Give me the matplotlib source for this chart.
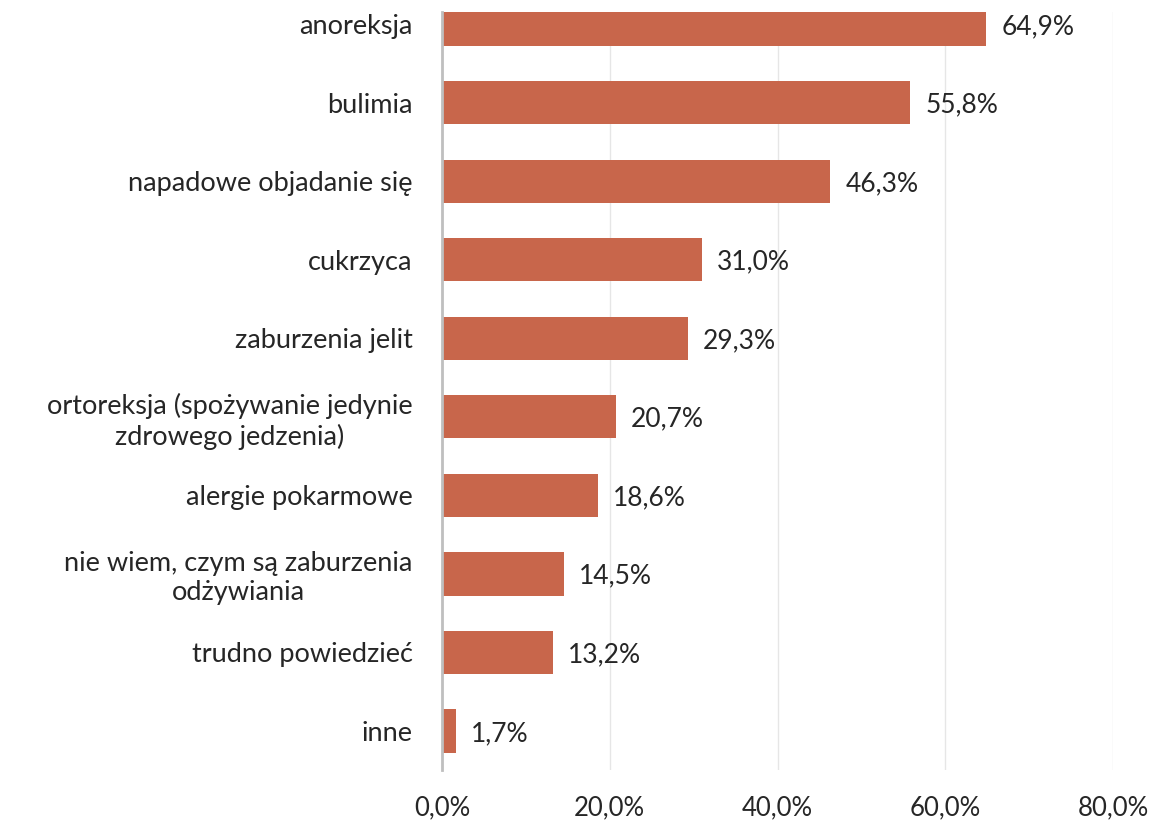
#!/usr/bin/env python3
"""Horizontal bar chart of eating disorder awareness answers."""

import matplotlib
matplotlib.use('Agg')
from matplotlib import pyplot as plt
from matplotlib.ticker import FuncFormatter

categories = [
    'anoreksja',
    'bulimia',
    'napadowe objadanie się',
    'cukrzyca',
    'zaburzenia jelit',
    'ortoreksja (spożywanie jedynie\nzdrowego jedzenia)',
    'alergie pokarmowe',
    'nie wiem, czym są zaburzenia\nodżywiania',
    'trudno powiedzieć',
    'inne',
]
values = [64.9, 55.8, 46.3, 31.0, 29.3, 20.7, 18.6, 14.5, 13.2, 1.7]
x_ticks = [0, 20, 40, 60, 80]


def pct(v):
    return '{:.1f}%'.format(v).replace('.', ',')


def main():
    plt.rcParams['font.family'] = ['Lato', 'DejaVu Sans']
    text_color = '#262626'

    fig = plt.figure(figsize=(11.55, 8.26), dpi=100)
    # top of the plot area cuts through the first bar, as in the source
    ax = fig.add_axes([0.3827, 0.0674, 0.581, 0.9181])

    pos = list(range(len(categories)))
    ax.barh(pos, values, height=0.55, color='#C8664B', zorder=3)
    ax.set_ylim(len(categories) - 0.5, -0.153)
    ax.set_xlim(0, 80)

    for y, v in zip(pos, values):
        ax.text(v + 1.8, y + 0.03, pct(v), va='center', ha='left',
                fontsize=19, color=text_color)

    ax.set_yticks(pos)
    ax.set_yticklabels(categories, fontsize=19.5, color=text_color,
                       multialignment='center', linespacing=1.2)
    ax.set_xticks(x_ticks)
    ax.xaxis.set_major_formatter(FuncFormatter(lambda v, _: pct(v)))
    ax.tick_params(axis='x', length=0, pad=18, labelsize=18.5,
                   labelcolor=text_color)
    ax.tick_params(axis='y', length=0, pad=21)

    ax.grid(axis='x', color='#E6E6E6', linewidth=1, zorder=0)
    ax.xaxis.get_gridlines()[0].set_visible(False)
    for side in ['top', 'right', 'bottom']:
        ax.spines[side].set_visible(False)
    ax.spines['left'].set_color('#BFBFBF')
    ax.spines['left'].set_linewidth(2)
    ax.spines['left'].set_zorder(4)

    fig.savefig('out.png', dpi=100)


if __name__ == '__main__':
    main()
